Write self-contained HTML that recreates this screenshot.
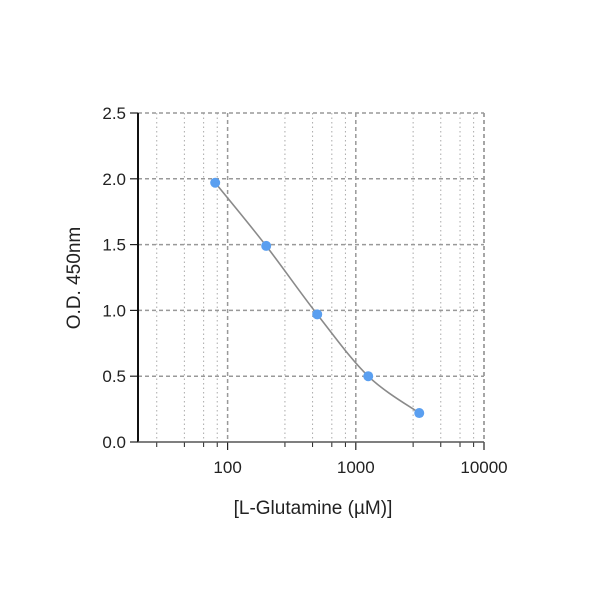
<!DOCTYPE html>
<html><head><meta charset="utf-8"><style>
body{margin:0;background:#fff;}
svg{display:block;font-family:"Liberation Sans",sans-serif;}
</style></head><body>
<svg width="600" height="600">
<g id="grid"></g>
<g id="axes"></g>
<path id="curve" fill="none" stroke="#8a8a8a" stroke-width="1.6"/>
<g id="pts"></g>
<text x="313" y="514" text-anchor="middle" font-size="19" fill="#222">[L-Glutamine (µM)]</text>
<text transform="translate(80,278) rotate(-90)" text-anchor="middle" font-size="19" fill="#222">O.D. 450nm</text>
</svg>
<script>
const concentrations=[80,200,500,1250,3125];
const odValues=[1.97,1.49,0.97,0.50,0.22];
const xTicks=[100,1000,10000];
const xTickLabels=["100","1000","10000"];
const yTicks=[0,0.5,1,1.5,2,2.5];
const yTickLabels=["0.0","0.5","1.0","1.5","2.0","2.5"];
const minorFactors=[0.28,0.46,0.65,0.83];
const L=138,R=484,T=113,B=442,xmin=20,xmax=10000,ymax=2.5;
const x=v=>L+(Math.log10(v)-Math.log10(xmin))/(Math.log10(xmax)-Math.log10(xmin))*(R-L);
const y=v=>B-v/ymax*(B-T);
const NS="http://www.w3.org/2000/svg";
function mk(p,t,a){const e=document.createElementNS(NS,t);for(const k in a)e.setAttribute(k,a[k]);p.appendChild(e);return e;}
const g=document.getElementById('grid'),ax=document.getElementById('axes');
// minor vertical
[10,100,1000].forEach(d=>minorFactors.forEach(f=>{const v=d*10*f;if(v<xmin||v>xmax)return;
 const l=mk(g,'line',{x1:x(v),x2:x(v),y1:T,y2:B,stroke:'#aaa','stroke-width':1,'stroke-dasharray':'1.5,3'});
 
 const tk=mk(ax,'line',{x1:x(v),x2:x(v),y1:B,y2:B+5,stroke:'#222','stroke-width':1});
 }));
xTicks.forEach((v,i)=>{
 const l=mk(g,'line',{x1:x(v),x2:x(v),y1:T,y2:B,stroke:'#999','stroke-width':1.5,'stroke-dasharray':'4,3'});
 
 const tk=mk(ax,'line',{x1:x(v),x2:x(v),y1:B,y2:B+8,stroke:'#222','stroke-width':1.2});
 
 const t=mk(ax,'text',{x:x(v),y:B+31,'text-anchor':'middle','font-size':17,fill:'#222'});t.textContent=xTickLabels[i];
 });
yTicks.forEach((v,i)=>{
 if(v>0){const l=mk(g,'line',{x1:L,x2:R,y1:y(v),y2:y(v),stroke:'#999','stroke-width':1.5,'stroke-dasharray':'4,3'});
 }
 const tk=mk(ax,'line',{x1:L-8,x2:L,y1:y(v),y2:y(v),stroke:'#222','stroke-width':1.2});
 
 const t=mk(ax,'text',{x:L-12,y:y(v)+6,'text-anchor':'end','font-size':17,fill:'#222'});t.textContent=yTickLabels[i];
 });
const rb=mk(g,'line',{x1:R,x2:R,y1:T,y2:B,stroke:'#999','stroke-width':1.5,'stroke-dasharray':'4,3'});

const la=mk(ax,'line',{x1:L,x2:L,y1:T,y2:B,stroke:'#111','stroke-width':2});

const ba=mk(ax,'line',{x1:L,x2:R,y1:B,y2:B,stroke:'#555','stroke-width':1.5});

// curve (catmull-rom)
const P=concentrations.map((c,i)=>[x(c),y(odValues[i])]);
let d=`M${P[0][0]},${P[0][1]}`;
for(let i=0;i<P.length-1;i++){const p0=P[i-1]||P[i],p1=P[i],p2=P[i+1],p3=P[i+2]||P[i+1];
 d+=` C${p1[0]+(p2[0]-p0[0])/6},${p1[1]+(p2[1]-p0[1])/6} ${p2[0]-(p3[0]-p1[0])/6},${p2[1]-(p3[1]-p1[1])/6} ${p2[0]},${p2[1]}`;}
document.getElementById('curve').setAttribute('d',d);
const pg=document.getElementById('pts');
P.forEach(p=>{const c=mk(pg,'circle',{cx:p[0],cy:p[1],r:5,fill:'#5a9ff0'});
 });
</script>
</body></html>
